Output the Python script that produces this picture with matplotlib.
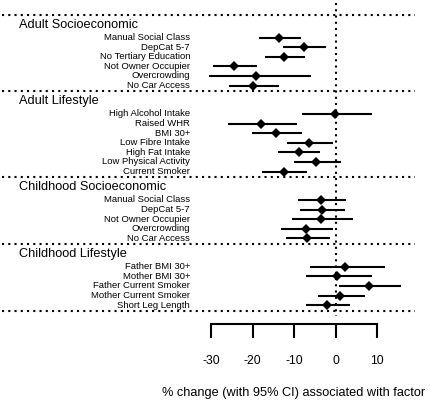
import matplotlib
matplotlib.use("Agg")
import matplotlib.pyplot as plt

plt.rcParams['font.family'] = ['Liberation Sans', 'DejaVu Sans']

groups = ["Adult Socioeconomic", "Adult Lifestyle",
          "Childhood Socioeconomic", "Childhood Lifestyle"]

labels_adult_se = ["Manual Social Class", "DepCat 5-7", "No Tertiary Education",
                   "Not Owner Occupier", "Overcrowding", "No Car Access"]
est_adult_se = [-13.7, -7.6, -12.5, -24.5, -19.2, -20.0]
lo_adult_se = [-18.4, -12.6, -17.0, -29.6, -30.5, -25.6]
hi_adult_se = [-8.4, -2.2, -7.4, -18.8, -6.0, -13.6]

labels_adult_ls = ["High Alcohol Intake", "Raised WHR", "BMI 30+", "Low Fibre Intake",
                   "High Fat Intake", "Low Physical Activity", "Current Smoker"]
est_adult_ls = [-0.1, -18.0, -14.4, -6.4, -8.9, -4.7, -12.5]
lo_adult_ls = [-8.0, -25.8, -20.1, -11.7, -13.8, -9.9, -17.6]
hi_adult_ls = [8.7, -9.3, -8.1, -0.5, -3.7, 1.3, -6.9]

labels_child_se = ["Manual Social Class", "DepCat 5-7", "Not Owner Occupier",
                   "Overcrowding", "No Car Access"]
est_child_se = [-3.4, -3.2, -3.5, -7.1, -6.9]
lo_child_se = [-9.0, -8.6, -10.6, -13.2, -11.9]
hi_child_se = [2.6, 2.4, 4.2, -0.5, -1.4]

labels_child_ls = ["Father BMI 30+", "Mother BMI 30+", "Father Current Smoker",
                   "Mother Current Smoker", "Short Leg Length"]
est_child_ls = [2.4, 0.4, 8.0, 1.2, -2.0]
lo_child_ls = [-6.2, -7.0, 0.9, -4.2, -7.2]
hi_child_ls = [12.0, 8.8, 15.7, 7.2, 3.5]

tick_values = [-30, -20, -10, 0, 10]
xlabel = "% change (with 95% CI) associated with factor"

data = [
    (labels_adult_se, est_adult_se, lo_adult_se, hi_adult_se),
    (labels_adult_ls, est_adult_ls, lo_adult_ls, hi_adult_ls),
    (labels_child_se, est_child_se, lo_child_se, hi_child_se),
    (labels_child_ls, est_child_ls, lo_child_ls, hi_child_ls),
]

W, H = 430, 403
fig = plt.figure(figsize=(W / 100, H / 100), dpi=100)
ax = fig.add_axes([0, 0, 1, 1])
ax.set_axis_off()

# pixel mapping: x_px = X0 + SCALE * value
X0, SCALE = 335.5, 4.15
ROW = 9.62
ax.set_xlim((0 - X0) / SCALE, (W - X0) / SCALE)
ax.set_ylim(H / ROW, 0)

def px2x(px):
    return (px - X0) / SCALE

dot = dict(color='black', linestyle=(0, (1, 2)), linewidth=1.5, dash_capstyle='butt')

pos = 15 / ROW
line_left, line_right = px2x(2), px2x(415)
label_x = px2x(190)
header_x = px2x(19)
top_line = pos
for g, (labs, est, lo, hi) in zip(groups, data):
    ax.plot([line_left, line_right], [pos, pos], **dot)
    header = pos + 1.04
    ax.text(header_x, header, g, fontsize=9.2, ha='left', va='center')
    y = header + 1.3
    for i, (lab, e, l, h) in enumerate(zip(labs, est, lo, hi)):
        yy = y + i
        ax.text(label_x, yy, lab, fontsize=6.8, ha='right', va='center')
        ax.plot([l, h], [yy, yy], color='black', linewidth=1.5, solid_capstyle='butt')
        ax.plot([e], [yy], marker='D', color='black', markersize=5.0, markeredgewidth=0)
    pos = y + len(labs) - 1 + 0.6
ax.plot([line_left, line_right], [pos, pos], **dot)

# vertical reference line at 0
ax.plot([0, 0], [3 / ROW, 316 / ROW], **dot)

# x axis drawn as separate axes
axis_y_px = 324
ax2 = fig.add_axes([(X0 + SCALE * tick_values[0]) / W, (H - axis_y_px) / H,
                    SCALE * (tick_values[-1] - tick_values[0]) / W, 0.0001])
ax2.set_xlim(tick_values[0], tick_values[-1])
for s in ['top', 'left', 'right']:
    ax2.spines[s].set_visible(False)
ax2.spines['bottom'].set_linewidth(1.5)
ax2.spines['bottom'].set_capstyle('projecting')
ax2.set_yticks([])
ax2.set_xticks(tick_values)
ax2.set_xticklabels([str(t) for t in tick_values])
ax2.tick_params(axis='x', direction='out', length=10.3, width=1.5, pad=12, labelsize=8.8)
ax2.patch.set_visible(False)

fig.text((X0 + SCALE * (tick_values[0] + tick_values[-1]) / 2) / W, (H - 393) / H,
         xlabel, fontsize=9.2, ha='center', va='center')

fig.savefig("out.png", dpi=100)
